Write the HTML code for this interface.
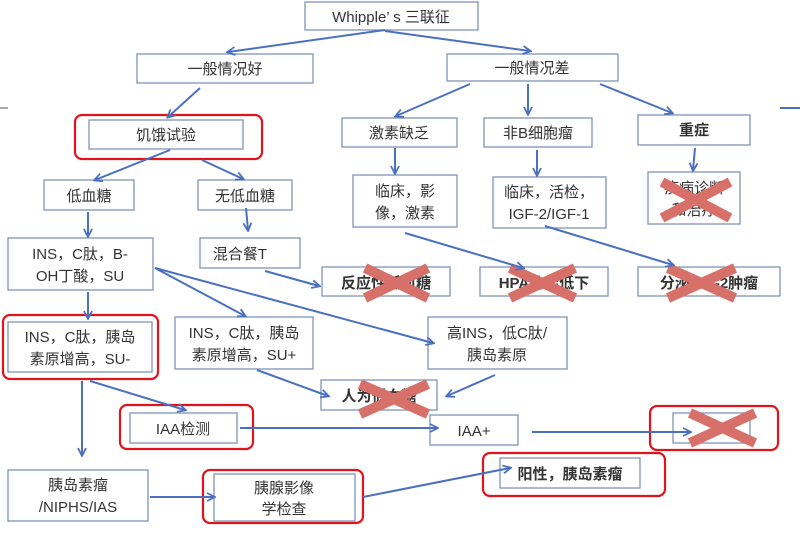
<!DOCTYPE html>
<html><head><meta charset="utf-8"><style>
html,body{margin:0;padding:0;background:#fff}
svg{display:block}
text{font-family:"Liberation Sans","Noto Sans CJK SC",sans-serif;font-size:15px;fill:#333;text-anchor:middle}
.b{fill:#fff;stroke:#7f95b8;stroke-width:1.3}
.r{fill:none;stroke:#e0141a;stroke-width:2.2}
.a{stroke:#4a70c0;stroke-width:2;fill:none;marker-end:url(#m)}
.x{stroke:#d8706a;stroke-width:10;opacity:1;stroke-linecap:butt}
.bold{font-weight:bold}
</style></head><body>
<svg width="800" height="536" viewBox="0 0 800 536">
<defs><marker id="m" markerWidth="10" markerHeight="10" refX="8" refY="5" orient="auto" markerUnits="userSpaceOnUse"><path d="M1,1 L9,5 L1,9" fill="none" stroke="#4a70c0" stroke-width="1.8"/></marker></defs>
<line x1="0" y1="108" x2="8" y2="108" stroke="#aaa" stroke-width="2"/>
<line x1="780" y1="108" x2="800" y2="108" stroke="#4a70c0" stroke-width="2"/>
<rect class="r" x="75" y="115" width="187" height="44" rx="7"/>
<rect class="r" x="3" y="315" width="155" height="64" rx="7"/>
<rect class="r" x="120" y="405" width="133" height="44" rx="7"/>
<rect class="r" x="650" y="406" width="128" height="44" rx="7"/>
<rect class="r" x="203" y="470" width="160" height="53" rx="7"/>
<rect class="r" x="483" y="453" width="182" height="43" rx="7"/>
<rect class="b" x="305" y="2" width="173" height="28"/><text x="391" y="22">Whipple’ s 三联征</text>
<rect class="b" x="137" y="54" width="176" height="29"/><text x="225" y="74">一般情况好</text>
<rect class="b" x="447" y="54" width="171" height="27"/><text x="532" y="73">一般情况差</text>
<rect class="b" x="89" y="120" width="154" height="29"/><text x="166" y="140">饥饿试验</text>
<rect class="b" x="342" y="118" width="115" height="29"/><text x="399" y="138">激素缺乏</text>
<rect class="b" x="484" y="118" width="108" height="29"/><text x="538" y="138">非B细胞瘤</text>
<rect class="b" x="638" y="115" width="112" height="30"/><text x="694" y="135" class="bold">重症</text>
<rect class="b" x="44" y="180" width="90" height="30"/><text x="89" y="201">低血糖</text>
<rect class="b" x="198" y="180" width="94" height="30"/><text x="245" y="201">无低血糖</text>
<rect class="b" x="353" y="175" width="104" height="52"/><text x="405" y="196">临床，影</text><text x="405" y="218">像，激素</text>
<rect class="b" x="493" y="177" width="113" height="51"/><text x="549" y="197">临床，活检，</text><text x="549" y="219">IGF-2/IGF-1</text>
<rect class="b" x="648" y="172" width="92" height="52"/><text x="694" y="193">疾病诊断</text><text x="694" y="215">和治疗</text>
<rect class="b" x="8" y="238" width="145" height="52"/><text x="80" y="259">INS，C肽，B-</text><text x="80" y="281">OH丁酸，SU</text>
<rect class="b" x="200" y="238" width="100" height="30"/><text x="240" y="259">混合餐T</text>
<rect class="b" x="322" y="267" width="128" height="29"/><text x="386" y="288" class="bold">反应性低血糖</text>
<rect class="b" x="480" y="267" width="128" height="29"/><text x="544" y="288" class="bold">HPA功能低下</text>
<rect class="b" x="638" y="267" width="142" height="29"/><text x="709" y="288" class="bold">分泌IGF-2肿瘤</text>
<rect class="b" x="8" y="322" width="144" height="50"/><text x="80" y="342">INS，C肽，胰岛</text><text x="80" y="364">素原增高，SU-</text>
<rect class="b" x="175" y="317" width="138" height="52"/><text x="244" y="338">INS，C肽，胰岛</text><text x="244" y="360">素原增高，SU+</text>
<rect class="b" x="428" y="317" width="139" height="52"/><text x="497" y="338">高INS，低C肽/</text><text x="497" y="360">胰岛素原</text>
<rect class="b" x="321" y="380" width="116" height="30"/><text x="379" y="401" class="bold">人为低血糖</text>
<rect class="b" x="130" y="413" width="107" height="30"/><text x="183" y="434">IAA检测</text>
<rect class="b" x="430" y="415" width="88" height="30"/><text x="474" y="436">IAA+</text>
<rect class="b" x="673" y="413" width="77" height="30"/>
<rect class="b" x="8" y="470" width="140" height="51"/><text x="78" y="490">胰岛素瘤</text><text x="78" y="512">/NIPHS/IAS</text>
<rect class="b" x="214" y="474" width="141" height="47"/><text x="284" y="493">胰腺影像</text><text x="284" y="514">学检查</text>
<rect class="b" x="500" y="458" width="140" height="30"/><text x="570" y="479" class="bold">阳性，胰岛素瘤</text>
<g class="x">
<line x1="662" y1="182" x2="730" y2="218"/><line x1="662" y1="218" x2="730" y2="182"/>
<line x1="365" y1="268" x2="428" y2="298"/><line x1="365" y1="298" x2="428" y2="268"/>
<line x1="510" y1="268" x2="575" y2="298"/><line x1="510" y1="298" x2="575" y2="268"/>
<line x1="668" y1="268" x2="735" y2="298"/><line x1="668" y1="298" x2="735" y2="268"/>
<line x1="360" y1="384" x2="428" y2="414"/><line x1="360" y1="414" x2="428" y2="384"/>
<line x1="690" y1="413" x2="755" y2="443"/><line x1="690" y1="443" x2="755" y2="413"/>
</g>
<line class="a" x1="385" y1="30" x2="228" y2="52"/>
<line class="a" x1="385" y1="31" x2="530" y2="51"/>
<line class="a" x1="200" y1="88" x2="168" y2="117"/>
<line class="a" x1="470" y1="84" x2="396" y2="116"/>
<line class="a" x1="528" y1="84" x2="528" y2="114"/>
<line class="a" x1="600" y1="84" x2="672" y2="113"/>
<line class="a" x1="395" y1="148" x2="395" y2="173"/>
<line class="a" x1="537" y1="150" x2="537" y2="175"/>
<line class="a" x1="695" y1="148" x2="693" y2="170"/>
<line class="a" x1="170" y1="150" x2="95" y2="180"/>
<line class="a" x1="202" y1="160" x2="243" y2="179"/>
<line class="a" x1="88" y1="212" x2="88" y2="236"/>
<line class="a" x1="246" y1="208" x2="248" y2="230"/>
<line class="a" x1="265" y1="271" x2="319" y2="286"/>
<line class="a" x1="405" y1="233" x2="523" y2="268"/>
<line class="a" x1="545" y1="226" x2="673" y2="265"/>
<line class="a" x1="88" y1="292" x2="88" y2="318"/>
<line class="a" x1="155" y1="268" x2="245" y2="316"/>
<line class="a" x1="155" y1="268" x2="433" y2="343"/>
<line class="a" x1="257" y1="370" x2="328" y2="396"/>
<line class="a" x1="495" y1="375" x2="447" y2="396"/>
<line class="a" x1="90" y1="381" x2="185" y2="410"/>
<line class="a" x1="82" y1="381" x2="82" y2="455"/>
<line class="a" x1="240" y1="428" x2="437" y2="428"/>
<line class="a" x1="532" y1="432" x2="690" y2="432"/>
<line class="a" x1="150" y1="497" x2="214" y2="497"/>
<line class="a" x1="363" y1="497" x2="510" y2="468"/>
</svg>
</body></html>
